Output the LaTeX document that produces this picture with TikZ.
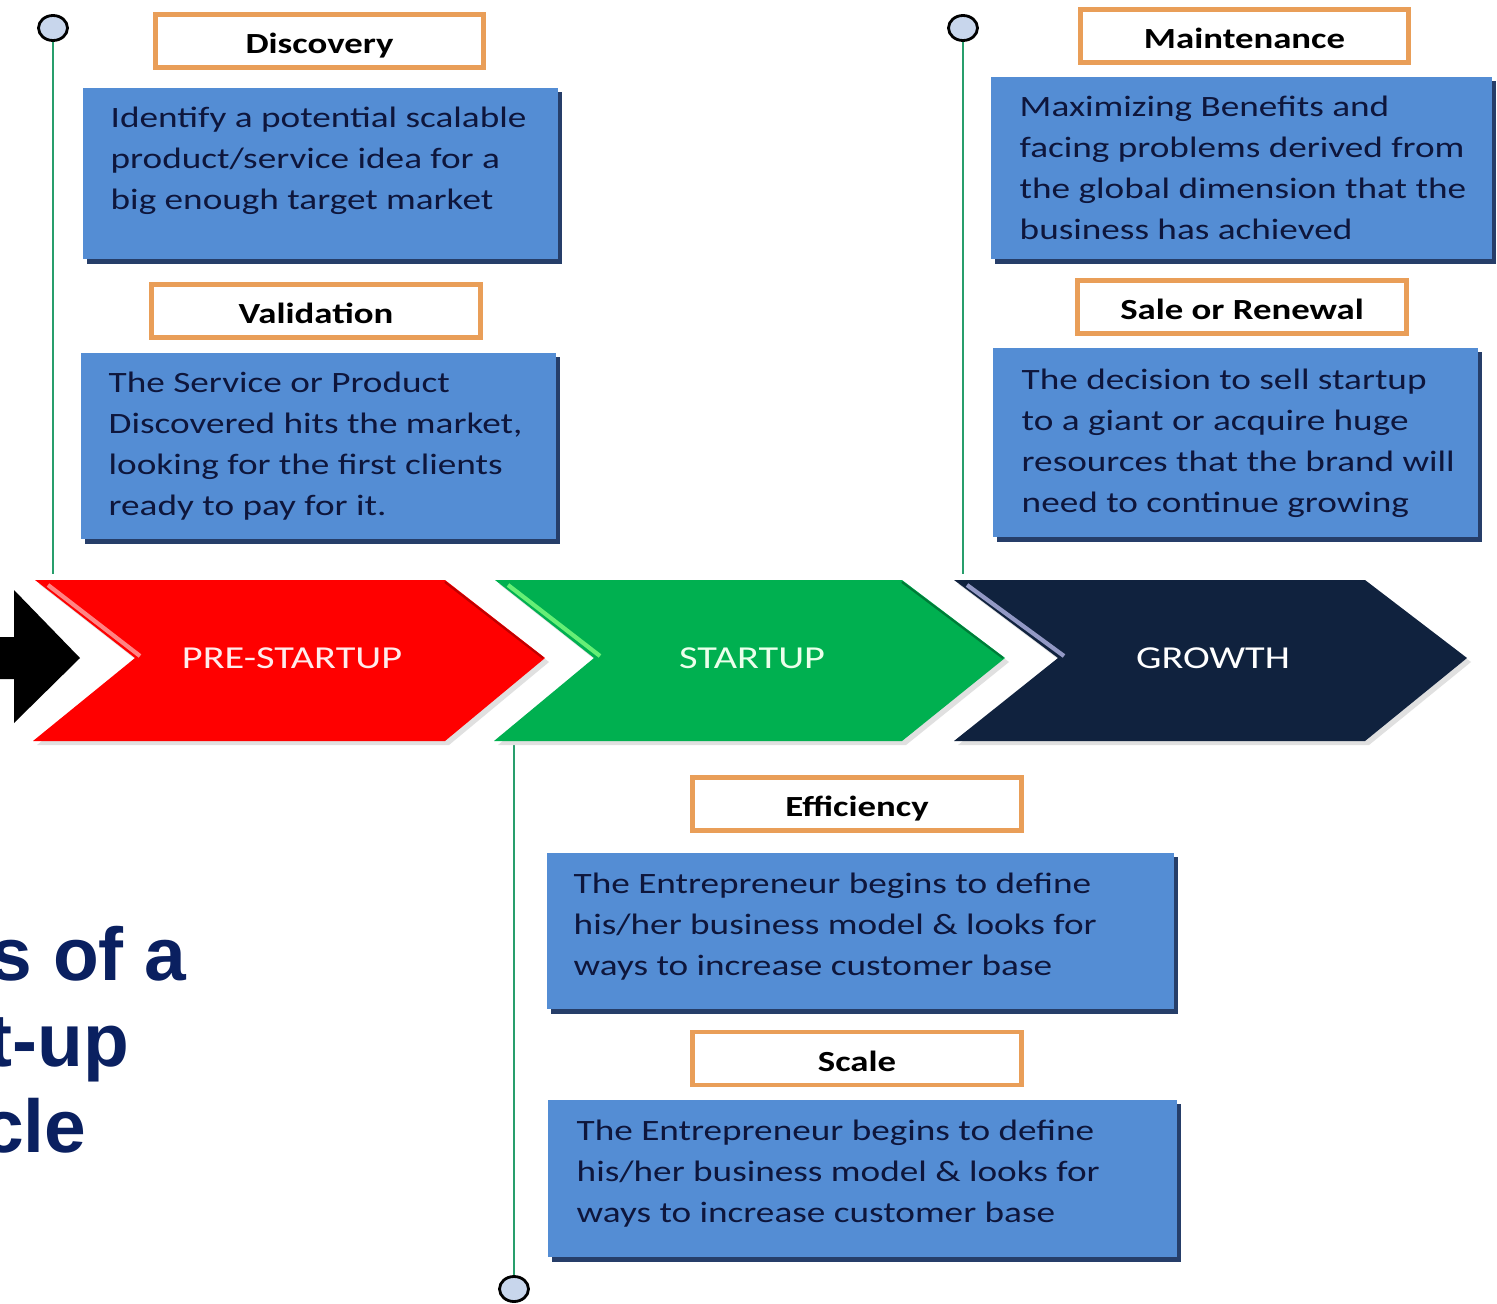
\documentclass[tikz,border=0pt]{standalone}
\usepackage{fontspec}
\newfontfamily\cali[FakeStretch=1.26]{Carlito}
\newfontfamily\arialb{Liberation Sans}
\usetikzlibrary{shapes.geometric,shadows}
\definecolor{boxblue}{RGB}{84,141,212}
\definecolor{shadowc}{RGB}{38,62,105}
\definecolor{orangeb}{RGB}{233,158,88}
\definecolor{textnavy}{RGB}{14,22,60}
\definecolor{gline}{RGB}{40,158,108}
\definecolor{circfill}{RGB}{200,214,236}
\definecolor{chred}{RGB}{255,0,0}
\definecolor{chgreen}{RGB}{0,176,80}
\definecolor{chnavy}{RGB}{16,34,62}
\definecolor{titlenavy}{RGB}{10,32,96}
\tikzset{
  lbl/.style={draw=orangeb, line width=1.4pt, fill=white, minimum width=3.28cm,
    minimum height=0.53cm, inner sep=0, text=black, text height=0.72em, text depth=0pt,
    font=\cali\bfseries\fontsize{8.3}{10}\selectfont},
  desc/.style={fill=boxblue, inner sep=0,
    drop shadow={shadow xshift=0.04cm, shadow yshift=-0.045cm, fill=shadowc, opacity=1}},
  dtext/.style={anchor=base west, align=left, inner sep=0, text=textnavy,
    font=\cali\fontsize{8.4}{11.6}\selectfont},
  chevtext/.style={font=\cali\fontsize{9.1}{11}\selectfont, inner sep=0},
  circ/.style={ellipse, draw=black, line width=0.8pt, fill=circfill,
    minimum width=0.29cm, minimum height=0.25cm, inner sep=0},
  stem/.style={draw=gline, line width=0.7pt},
  ttl/.style={anchor=base east, inner sep=0, text=titlenavy,
    font=\arialb\bfseries\fontsize{21.3}{25}\selectfont}
}
\begin{document}
\begin{tikzpicture}[x=0.01cm,y=-0.01cm]
\useasboundingbox (0,0) rectangle (1497,1303);
\clip (0,0) rectangle (1497,1303);
\fill[white] (0,0) rectangle (1497,1303);

% stems and circles
\coordinate (s1e) at (53,574);
\coordinate (s2e) at (963,574);
\coordinate (s3e) at (514,745);
\node[circ] (c1) at (53,28) {};
\node[circ] (c2) at (963,28) {};
\node[circ] (c3) at (514,1289) {};
\draw[stem] (c1) -- (s1e);
\draw[stem] (c2) -- (s2e);
\draw[stem] (s3e) -- (c3);

% black entry arrow
\fill[black] (0,637) -- (14,637) -- (14,590) -- (80,658) -- (14,723) -- (14,679) -- (0,679) -- cycle;

% chevrons
\fill[black!12] (39,584) -- (449,584) -- (549,662) -- (449,745) -- (37,745) -- (139,662) -- cycle;
\fill[chred] (35,580) -- (445,580) -- (545,658) -- (445,741) -- (33,741) -- (135,658) -- cycle;
\draw[red!35!white, line width=1.2pt, opacity=0.8] (48,585) -- (140,656);
\draw[red!75!black, line width=0.6pt] (445,582) -- (543,658);

\fill[black!12] (499,584) -- (906,584) -- (1009,662) -- (906,745) -- (498,745) -- (598,662) -- cycle;
\fill[chgreen] (495,580) -- (902,580) -- (1005,658) -- (902,741) -- (494,741) -- (594,658) -- cycle;
\draw[green!50!white, line width=1.2pt, opacity=0.8] (508,585) -- (600,656);
\draw[chgreen!70!black, line width=0.6pt] (902,582) -- (1003,658);

\fill[black!12] (958,584) -- (1369,584) -- (1471,662) -- (1369,745) -- (958,745) -- (1062,662) -- cycle;
\fill[chnavy] (954,580) -- (1365,580) -- (1467,658) -- (1365,741) -- (954,741) -- (1058,658) -- cycle;
\draw[blue!20!white, line width=1.2pt, opacity=0.7] (967,585) -- (1064,656);

\node[chevtext, text=red!8!white] (pre) at (292,658) {PRE-STARTUP};
\node[chevtext, text=green!8!white] (st) at (752,658) {STARTUP};
\node[chevtext, text=white] (gr) at (1213,658) {GROWTH};

% label boxes
\node[lbl] (disc) at (319.5,41) {Discovery};
\node[lbl] (vali) at (316,311) {Validation};
\node[lbl] (main) at (1244.5,36) {Maintenance};
\node[lbl] (sale) at (1242,307) {Sale or Renewal};
\node[lbl] (effi) at (857,804) {Efficiency};
\node[lbl] (scal) at (857,1058.5) {Scale};

% description boxes
\node[desc, minimum width=4.75cm, minimum height=1.71cm] (discb) at (320.5,173.5) {};
\node[desc, minimum width=4.75cm, minimum height=1.86cm] (valib) at (318.5,446) {};
\node[desc, minimum width=5.01cm, minimum height=1.82cm] (mainb) at (1241.5,168) {};
\node[desc, minimum width=4.85cm, minimum height=1.89cm] (saleb) at (1235.5,442.5) {};
\node[desc, minimum width=6.27cm, minimum height=1.56cm] (effib) at (860.5,931) {};
\node[desc, minimum width=6.29cm, minimum height=1.57cm] (scalb) at (862.5,1178.5) {};

% description texts (anchored at the baseline of their last line)
\node[dtext] (disct) at (110,209) {Identify a potential scalable\\product/service idea for a\\big enough target market};
\node[dtext] (valit) at (108,515) {The Service or Product\\Discovered hits the market,\\looking for the first clients\\ready to pay for it.};
\node[dtext] (maint) at (1019,239) {Maximizing Benefits and\\facing problems derived from\\the global dimension that the\\business has achieved};
\node[dtext] (salet) at (1021,512) {The decision to sell startup\\to a giant or acquire huge\\resources that the brand will\\need to continue growing};
\node[dtext] (effit) at (573,975) {The Entrepreneur begins to define\\his/her business model \& looks for\\ways to increase customer base};
\node[dtext] (scalt) at (576,1222) {The Entrepreneur begins to define\\his/her business model \& looks for\\ways to increase customer base};

% title fragment (cut at the left edge, as in the reference)
\node[ttl] (t1) at (187,980) {s of a};
\node[ttl] (t2) at (130,1066) {t-up};
\node[ttl] (t3) at (87,1152) {cle};
\end{tikzpicture}
\end{document}
